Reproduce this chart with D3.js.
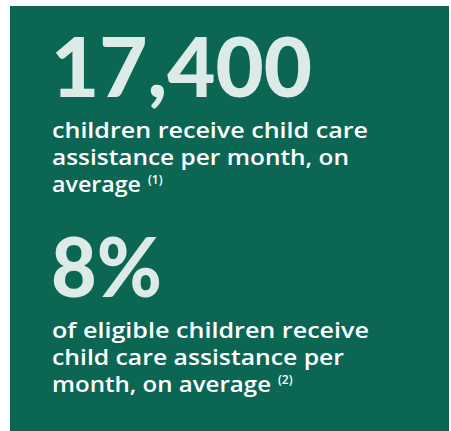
<!DOCTYPE html>
<html>
<head>
<meta charset="utf-8">
<script src="https://cdn.jsdelivr.net/npm/d3@7"></script>
<style>
  html, body { margin: 0; padding: 0; background: #fff; }
  svg { display: block; }
</style>
</head>
<body>
<div id="chart"></div>
<script>
// Chiffres clés (2 blocs)
const statValues = ["17,400", "8%"];
const statLines = [
  ["children receive child care", "assistance per month, on", "average"],
  ["of eligible children receive", "child care assistance per", "month, on average"]
];
const footnotes = ["(1)", "(2)"];

const W = 451, H = 431;
const bg = "#0b6654";

const svg = d3.select("#chart").append("svg")
  .attr("width", W).attr("height", H)
  .attr("viewBox", [0, 0, W, H]);

// Panneau vert
svg.append("rect")
  .attr("x", 10).attr("y", 6)
  .attr("width", 439).attr("height", H - 6)
  .attr("fill", bg);

// Position verticale (ligne de base du grand nombre) de chaque bloc
const blockY = d3.scalePoint().domain(statValues).range([97, 297]);
// largeurs mesurées sur l'image
const bigWidth = { "17,400": 261, "8%": 111 };
const lineW = [[316, 297, 89], [317, 292, 219]];

const blocks = svg.selectAll("g.block")
  .data(statValues)
  .join("g")
    .attr("class", "block")
    .attr("transform", d => `translate(51,${blockY(d)})`);

// Grand nombre
blocks.append("text")
  .attr("x", 0).attr("y", 0)
  .attr("fill", "#dcebe8")
  .attr("font-family", "Lato, sans-serif")
  .attr("font-weight", 900)
  .attr("font-size", 82)
  .attr("textLength", d => bigWidth[d])
  .attr("lengthAdjust", "spacingAndGlyphs")
  .text(d => d);

// Texte descriptif + renvoi
blocks.each(function(d, i) {
  const g = d3.select(this);
  statLines[i].forEach((line, j) => {
    g.append("text")
      .attr("x", 1)
      .attr("y", 41 + j * 27)
      .attr("fill", "#ffffff")
      .attr("font-family", "'Open Sans', sans-serif")
      .attr("font-weight", 600)
      .attr("font-size", 21)
      .attr("textLength", lineW[i][j])
      .attr("lengthAdjust", "spacingAndGlyphs")
      .text(line);
  });
  const last = statLines[i].length - 1;
  g.append("text")
    .attr("x", 1 + lineW[i][last] + 7)
    .attr("y", 41 + last * 27 - 8)
    .attr("fill", "#ffffff")
    .attr("font-family", "'Open Sans', sans-serif")
    .attr("font-weight", 600)
    .attr("font-size", 12)
    .text(footnotes[i]);
});
</script>
</body>
</html>
